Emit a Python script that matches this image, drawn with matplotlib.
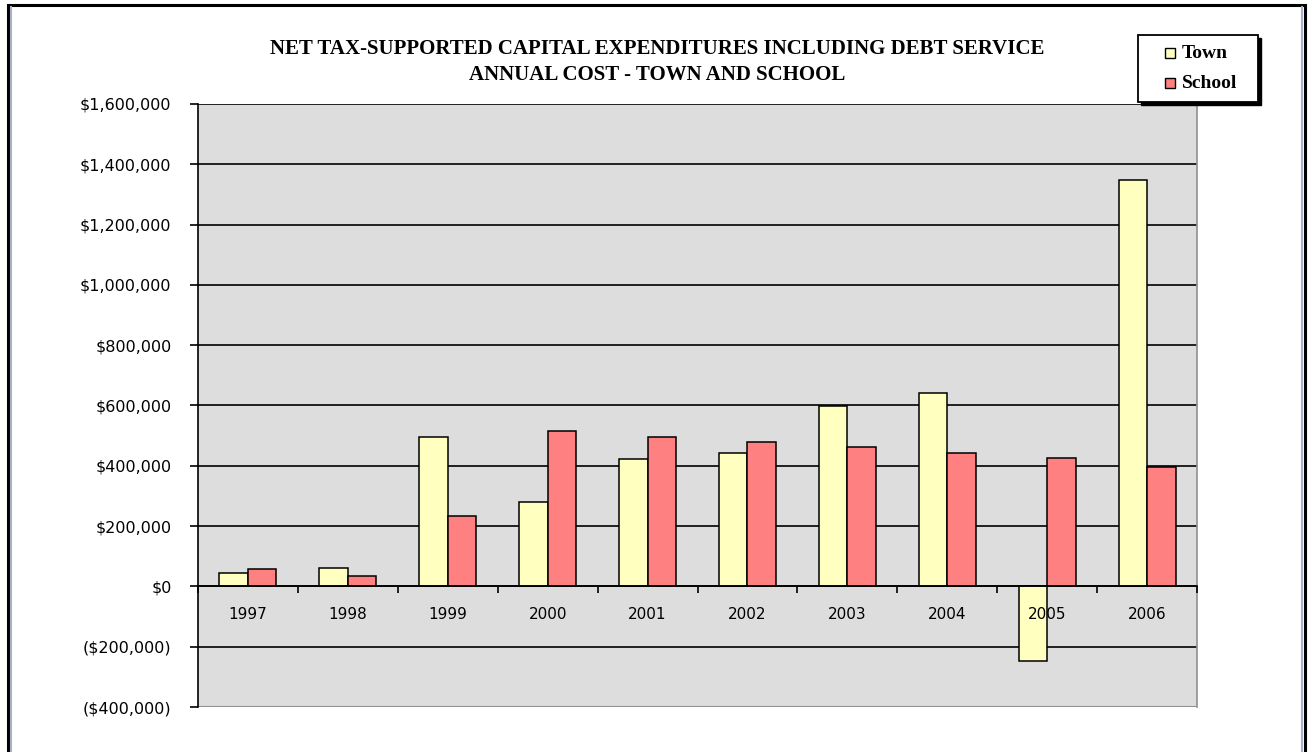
import numpy as np
import matplotlib.pyplot as plt
from matplotlib.patches import Rectangle
from matplotlib.lines import Line2D
from matplotlib.ticker import FuncFormatter

years = ['1997', '1998', '1999', '2000', '2001', '2002', '2003', '2004', '2005', '2006']
town = [45000, 60000, 494000, 279000, 421000, 441000, 598000, 642000, -249000, 1347000]
school = [59000, 36000, 232000, 514000, 496000, 480000, 462000, 444000, 427000, 397000]
series_names = ['Town', 'School']
series_colors = ['#ffffc0', '#ff8080']

title = ('NET TAX-SUPPORTED CAPITAL EXPENDITURES INCLUDING DEBT SERVICE\n'
         'ANNUAL COST - TOWN AND SCHOOL')

W, H = 1308, 752
fig = plt.figure(figsize=(W / 100, H / 100), dpi=100)
ax = fig.add_axes([198 / W, 1 - 707 / H, (1197 - 198) / W, (707 - 104) / H])
ax.set_facecolor('#dddddd')


def fx(px):
    return px / W


def fy(py):
    return 1 - py / H


x = np.arange(len(years))
w = 0.2857
ax.bar(x - w / 2, town, w, color=series_colors[0], edgecolor='black', linewidth=1.1, zorder=3)
ax.bar(x + w / 2, school, w, color=series_colors[1], edgecolor='black', linewidth=1.1, zorder=3)

ax.set_xlim(-0.5, len(years) - 0.5)
ax.set_ylim(-400000, 1600000)
ax.set_yticks(np.arange(-400000, 1600001, 200000))


def money(v, pos):
    if v < 0:
        return '(${:,.0f})'.format(-v)
    return '${:,.0f}'.format(v)


ax.yaxis.set_major_formatter(FuncFormatter(money))
ax.tick_params(axis='y', direction='out', length=6, width=1.2, pad=13,
               labelsize=11.5)

ax.set_axisbelow(True)
ax.grid(axis='y', color='black', linewidth=1.2)
ax.yaxis.get_gridlines()[0].set_visible(False)

# category axis crosses at zero, labels drawn over the bars
ax.spines['bottom'].set_position(('data', 0))
ax.spines['bottom'].set_linewidth(1.2)
ax.spines['bottom'].set_zorder(4)
ax.xaxis.set_zorder(5)
ax.set_xticks(np.arange(-0.5, len(years), 1.0))
ax.set_xticklabels([])
ax.set_xticks(x, minor=True)
ax.set_xticklabels(years, minor=True)
ax.tick_params(axis='x', which='major', direction='out', length=5, width=1.2)
ax.tick_params(axis='x', which='minor', length=0, pad=15, labelsize=11)

ax.spines['left'].set_linewidth(1.2)
ax.spines['top'].set_visible(False)
ax.spines['right'].set_color('#909090')
ax.spines['right'].set_linewidth(1.2)
ax.axhline(-400000, color='#909090', linewidth=1.5, zorder=2)

fig.text(fx(657), fy(62), title, ha='center', va='center',
         fontsize=15, fontweight='bold', family='Liberation Serif',
         linespacing=1.35)

# legend box with shadow, drawn like the spreadsheet one
fig.patches.append(Rectangle((fx(1141), fy(105)), fx(120), 67 / H,
                             transform=fig.transFigure, facecolor='black',
                             edgecolor='black', zorder=5))
fig.patches.append(Rectangle((fx(1138), fy(102)), fx(120), 67 / H,
                             transform=fig.transFigure, facecolor='white',
                             edgecolor='black', linewidth=1.3, zorder=6))
for i, (name, col) in enumerate(zip(series_names, series_colors)):
    cy = 53 + 30 * i
    fig.patches.append(Rectangle((fx(1165), fy(cy + 5)), fx(10), 10 / H,
                                 transform=fig.transFigure, facecolor=col,
                                 edgecolor='black', linewidth=1.0, zorder=7))
    fig.text(fx(1182), fy(cy), name, ha='left', va='center', fontsize=14,
             fontweight='bold', family='Liberation Serif', zorder=7)

# outer chart border
fig.patches.append(Rectangle((fx(8), -0.02), fx(1305 - 8), 1.02 - 5 / H,
                             transform=fig.transFigure, fill=False,
                             edgecolor='black', linewidth=2.2))
fig.lines.append(Line2D([fx(11), fx(11)], [0, fy(7)], transform=fig.transFigure,
                        color='#a8b0cc', linewidth=1.5))
fig.lines.append(Line2D([fx(1302), fx(1302)], [0, fy(7)], transform=fig.transFigure,
                        color='#a8b0cc', linewidth=1.5))

fig.savefig('out.png', dpi=100)
